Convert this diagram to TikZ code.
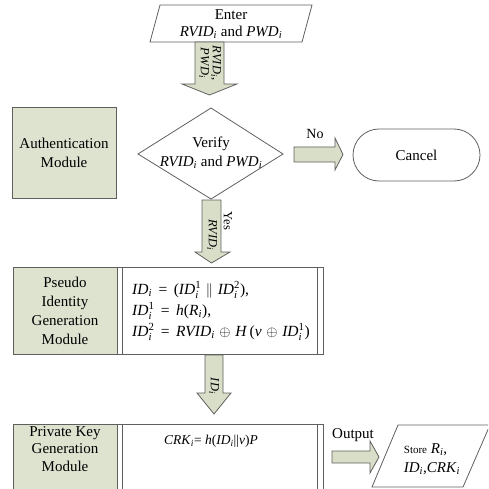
\documentclass[tikz,border=0pt]{standalone}
\usepackage{amsmath}
\usepackage{fontspec}
\setmainfont{Liberation Serif}
\definecolor{modgreen}{RGB}{222,227,208}
\definecolor{arrgreen}{RGB}{217,222,200}
\definecolor{lc}{RGB}{95,95,95}
\newcommand\mi[1]{\textit{#1}}
\newcommand\sbi{$_{\text{\itshape i}}$}
\newcommand\sbsp[1]{$_{\text{\itshape i}}^{\text{#1}}$}
\newcommand\eqs{\hspace{0.42em}=\hspace{0.42em}}
\newcommand\ops[1]{\hspace{0.3em}$#1$\hspace{0.3em}}
\tikzset{
  box/.style={draw=lc, line width=0.8pt},
  gbox/.style={box, fill=modgreen},
  barrow/.style={draw=lc, line width=0.8pt, fill=arrgreen, line join=miter},
  txt/.style={font=\fontsize{15}{19}\selectfont, align=center, inner sep=0pt},
  smalltxt/.style={font=\fontsize{12.5}{15}\selectfont, align=center, inner sep=0pt},
  ftxt/.style={font=\fontsize{15.5}{19}\selectfont, anchor=west, inner sep=0pt},
}
\begin{document}
\begin{tikzpicture}[x=1pt,y=-1pt]
\useasboundingbox (0,0) rectangle (488,489);
\clip (0,0) rectangle (488,489);
% Enter parallelogram
\draw[box] (160,5) -- (312,5) -- (302,42) -- (150,42) -- cycle;
\node[txt] (enter) at (231,24) {Enter\\[-2pt]\mi{RVID}\sbi{} and \mi{PWD}\sbi};
% arrow 1
\draw[barrow] (195,42) -- (224,42) -- (224,84) -- (237,84) -- (209.5,95) -- (182,84) -- (195,84) -- cycle;
\node[smalltxt, rotate=-90] (a1lbl) at (210,63) {\mi{RVID}\sbi,\\[-3pt]\mi{PWD}\sbi};
% Authentication module
\draw[gbox] (12,107) rectangle (116,198);
\node[txt] (auth) at (64,152.5) {Authentication\\Module};
% diamond
\draw[box] (211,108) -- (283,154) -- (211,199) -- (138,154) -- cycle;
\node[txt] (verify) at (211,153) {Verify\\\mi{RVID}\sbi{} and \mi{PWD}\sbi};
% No arrow
\draw[barrow] (294,147) -- (335,147) -- (335,138) -- (343,154.5) -- (335,170) -- (335,162) -- (294,162) -- cycle;
\node[txt, font=\fontsize{14}{16}\selectfont] (no) at (315,134) {No};
% Cancel
\draw[box, rounded corners=26pt] (353,129) rectangle (480,181);
\node[txt] (cancel) at (416.5,155) {Cancel};
% Yes arrow
\draw[barrow] (202,200) -- (221,200) -- (221,252) -- (230,252) -- (211.5,263) -- (195,252) -- (202,252) -- cycle;
\node[smalltxt, rotate=-90] (yes) at (228,221) {Yes};
\node[smalltxt, rotate=-90] (yesid) at (212,235) {\mi{RVID}\sbi};
% Pseudo identity box
\draw[gbox] (13,267) rectangle (117,354);
\draw[box] (117,267) rectangle (323,354);
\draw[box] (122,267) -- (122,354);
\draw[box] (317,267) -- (317,354);
\node[txt] (pseudo) at (65,311) {Pseudo\\Identity\\Generation\\Module};
\node[ftxt] (f1) at (132,290)
 {\mi{ID}\sbi\eqs(\mi{ID}\sbsp{1}\ops{\parallel}\mi{ID}\sbsp{2}),};
\node[ftxt] (f2) at (132,311)
 {\mi{ID}\sbsp{1}\eqs\mi{h}(\mi{R}\sbi),};
\node[ftxt] (f3) at (132,332)
 {\mi{ID}\sbsp{2}\eqs\mi{RVID}\sbi\ops{\oplus}\mi{H}\,(\mi{v}\ops{\oplus}\mi{ID}\sbsp{1})};
% IDi arrow
\draw[barrow] (205,355) -- (223,355) -- (223,393) -- (231,393) -- (214,414) -- (197,393) -- (205,393) -- cycle;
\node[smalltxt, rotate=-90] (idlbl) at (214,386) {\mi{ID}\sbi};
% Private key box
\draw[gbox] (13,424) rectangle (117,495);
\draw[box] (117,424) rectangle (323,495);
\draw[box] (122,424) -- (122,495);
\draw[box] (317,424) -- (317,495);
\node[txt, font=\fontsize{15}{17.5}\selectfont] (priv) at (65,449) {Private Key\\Generation\\Module};
\node[txt, font=\fontsize{13.5}{16}\selectfont] (crk) at (211,441) {\mi{CRK}\sbi= \mi{h}(\mi{ID}\sbi||\mi{v})\mi{P}};
% Output arrow
\draw[barrow] (332,451) -- (370,451) -- (370,441) -- (379,457) -- (370,473) -- (370,463) -- (332,463) -- cycle;
\node[txt] (outlbl) at (353,435) {Output};
% Store parallelogram
\draw[box] (398,425) -- (490,425) -- (463,487) -- (372,487) -- cycle;
\node[txt, align=left] (store) at (432,459) {{\fontsize{11}{13}\selectfont Store} \mi{R}\sbi,\\\mi{ID}\sbi,\mi{CRK}\sbi};
\end{tikzpicture}
\end{document}
